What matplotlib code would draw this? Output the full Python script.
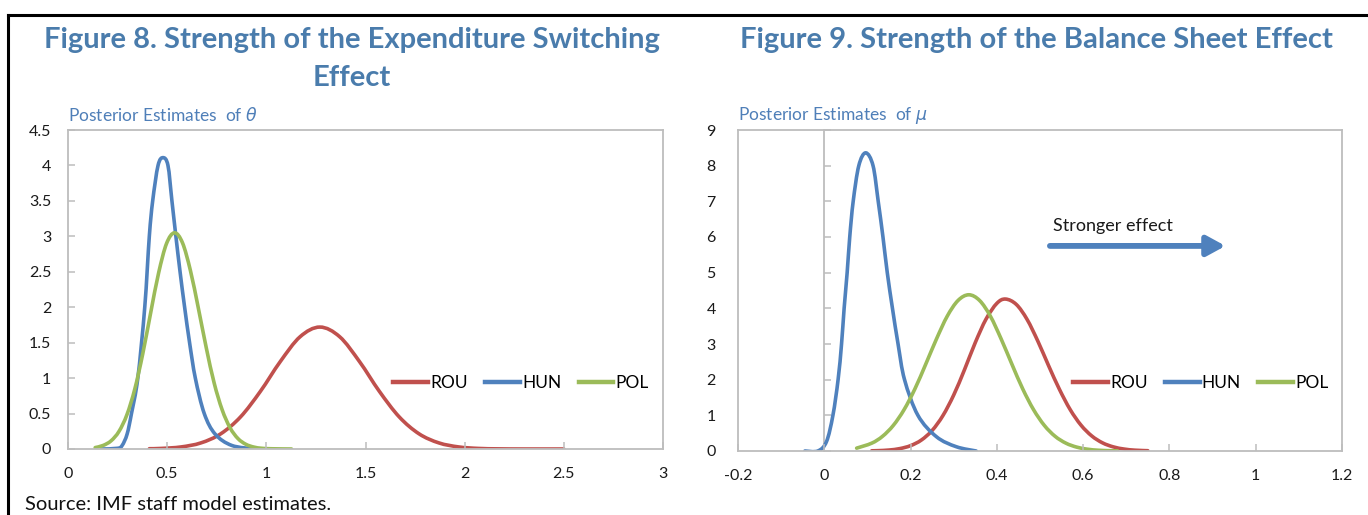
import numpy as np
import matplotlib
matplotlib.use("Agg")
import matplotlib.pyplot as plt
from matplotlib.path import Path
from matplotlib.patches import PathPatch
from matplotlib.lines import Line2D

plt.rcParams['font.family'] = ['Lato', 'DejaVu Sans']
plt.rcParams['mathtext.fontset'] = 'dejavusans'

# ---- Figure 8: posterior density of theta ----
theta_rou_x = [0.41, 0.47, 0.57, 0.67, 0.77, 0.87, 0.97, 1.07, 1.17, 1.27, 1.37,
               1.47, 1.57, 1.67, 1.77, 1.87, 1.97, 2.07, 2.17, 2.30, 2.50]
theta_rou_y = [0.004, 0.008, 0.029, 0.086, 0.214, 0.453, 0.813, 1.232, 1.583, 1.72, 1.583,
               1.232, 0.813, 0.453, 0.214, 0.086, 0.029, 0.008, 0.002, 0.0, 0.0]
theta_hun_x = [0.17, 0.25, 0.273, 0.298, 0.32, 0.352, 0.387, 0.41, 0.427, 0.454, 0.479,
               0.504, 0.524, 0.544, 0.565, 0.588, 0.613, 0.642, 0.687, 0.742, 0.826, 0.943]
theta_hun_y = [0.0, 0.01, 0.05, 0.21, 0.5, 1.0, 2.0, 3.0, 3.5, 4.0, 4.11,
               4.0, 3.5, 3.0, 2.5, 2.0, 1.5, 1.0, 0.5, 0.21, 0.05, 0.0]
theta_pol_x = [0.137, 0.177, 0.217, 0.257, 0.297, 0.337, 0.377, 0.417, 0.457, 0.497, 0.537,
               0.577, 0.617, 0.657, 0.697, 0.737, 0.777, 0.817, 0.857, 0.897, 0.937,
               0.977, 1.03, 1.127]
theta_pol_y = [0.02, 0.05, 0.115, 0.248, 0.483, 0.848, 1.344, 1.924, 2.485, 2.90, 3.05,
               2.91, 2.52, 1.99, 1.43, 0.93, 0.555, 0.30, 0.147, 0.066, 0.027,
               0.01, 0.003, 0.0]
theta_xticks = [0, 0.5, 1, 1.5, 2, 2.5, 3]
theta_xlabels = ['0', '0.5', '1', '1.5', '2', '2.5', '3']
theta_yticks = [0, 0.5, 1, 1.5, 2, 2.5, 3, 3.5, 4, 4.5]
theta_ylabels = ['0', '0.5', '1', '1.5', '2', '2.5', '3', '3.5', '4', '4.5']

# ---- Figure 9: posterior density of mu ----
mu_rou_x = [0.11, 0.125, 0.15, 0.175, 0.20, 0.225, 0.25, 0.275, 0.30, 0.325, 0.35, 0.375,
            0.40, 0.42, 0.445, 0.47, 0.495, 0.52, 0.545, 0.57, 0.595, 0.62, 0.645,
            0.67, 0.695, 0.72, 0.75]
mu_rou_y = [0.006, 0.010, 0.027, 0.067, 0.150, 0.307, 0.576, 0.994, 1.57, 2.28, 3.04, 3.70,
            4.14, 4.26, 4.11, 3.69, 3.08, 2.39, 1.73, 1.16, 0.725, 0.422, 0.228,
            0.115, 0.054, 0.023, 0.008]
mu_hun_x = [-0.045, -0.015, 0.005, 0.02, 0.032, 0.04, 0.046, 0.053, 0.059, 0.067, 0.08,
            0.096, 0.113, 0.125, 0.136, 0.146, 0.158, 0.171, 0.186, 0.217, 0.26, 0.306, 0.352]
mu_hun_y = [0.0, 0.0, 0.26, 1.0, 2.0, 3.0, 4.0, 5.0, 6.0, 7.0, 8.0,
            8.36, 8.0, 7.0, 6.0, 5.0, 4.0, 3.0, 2.0, 1.0, 0.4, 0.12, 0.0]
mu_pol_x = [0.075, 0.11, 0.135, 0.16, 0.185, 0.21, 0.235, 0.26, 0.285, 0.31, 0.335,
            0.36, 0.385, 0.41, 0.435, 0.46, 0.485, 0.51, 0.535, 0.56, 0.585, 0.61,
            0.635, 0.66, 0.68]
mu_pol_y = [0.08, 0.22, 0.412, 0.718, 1.16, 1.74, 2.43, 3.14, 3.78, 4.22, 4.38,
            4.22, 3.78, 3.14, 2.43, 1.74, 1.16, 0.718, 0.412, 0.22, 0.109, 0.05,
            0.021, 0.009, 0.004]
mu_xticks = [-0.2, 0, 0.2, 0.4, 0.6, 0.8, 1.0, 1.2]
mu_xlabels = ['-0.2', '0', '0.2', '0.4', '0.6', '0.8', '1', '1.2']
mu_yticks = [0, 1, 2, 3, 4, 5, 6, 7, 8, 9]
mu_ylabels = ['0', '1', '2', '3', '4', '5', '6', '7', '8', '9']

countries = ['ROU', 'HUN', 'POL']
colors = ['#c0504d', '#4f81bd', '#9bbb59']

TITLE_C = '#4a7cac'
SUB_C = '#4f7fb8'
AXIS_C = '#bdbdbd'
LW = 2.6

W, H = 1368, 515
fig = plt.figure(figsize=(W / 100, H / 100), dpi=100)


def px_axes(x0, y0, x1, y1):
    return fig.add_axes([x0 / W, 1 - y1 / H, (x1 - x0) / W, (y1 - y0) / H])


def smooth_path(xs, ys):
    """Catmull-Rom style cubic Bezier through the given points."""
    pts = np.column_stack([xs, ys]).astype(float)
    n = len(pts)
    verts = [pts[0]]
    codes = [Path.MOVETO]
    for i in range(n - 1):
        p0 = pts[i - 1] if i > 0 else pts[i]
        p1 = pts[i]
        p2 = pts[i + 1]
        p3 = pts[i + 2] if i + 2 < n else pts[i + 1]
        c1 = p1 + (p2 - p0) / 6.0
        c2 = p2 - (p3 - p1) / 6.0
        verts += [c1, c2, p2]
        codes += [Path.CURVE4] * 3
    return Path(verts, codes)


def draw_curve(ax, xs, ys, color):
    patch = PathPatch(smooth_path(xs, ys), facecolor='none', edgecolor=color,
                      lw=LW, capstyle='round', joinstyle='round',
                      transform=ax.transData)
    ax.add_patch(patch)


def style_axes(ax):
    for s in ax.spines.values():
        s.set_color(AXIS_C)
        s.set_linewidth(1.3)
    ax.tick_params(colors=AXIS_C, labelcolor='#1a1a1a', labelsize=11.5,
                   direction='in', length=5, width=1.1)


def add_legend(ax, x, y):
    handles = [Line2D([], [], color=c, lw=3.2) for c in colors]
    ax.legend(handles, countries, loc='center left', bbox_to_anchor=(x, y),
              ncol=3, frameon=False, fontsize=12.5, handlelength=2.0,
              handletextpad=0.12, columnspacing=1.0, borderaxespad=0,
              borderpad=0)


# Left panel
ax1 = px_axes(68, 130, 663, 449)
ax1.set_xlim(0, 3)
ax1.set_ylim(0, 4.5)
style_axes(ax1)
ax1.set_xticks(theta_xticks, theta_xlabels)
ax1.set_yticks(theta_yticks, theta_ylabels)
ax1.tick_params(axis='x', pad=13)
ax1.tick_params(axis='y', pad=12)
for xs, ys, c in zip([theta_rou_x, theta_hun_x, theta_pol_x],
                     [theta_rou_y, theta_hun_y, theta_pol_y], colors):
    draw_curve(ax1, xs, ys, c)
add_legend(ax1, 0.547, 0.207)

# Right panel
ax2 = px_axes(738, 130, 1342, 451)
ax2.set_xlim(-0.2, 1.2)
ax2.set_ylim(0, 9)
style_axes(ax2)
ax2.set_xticks(mu_xticks, mu_xlabels)
ax2.set_yticks(mu_yticks, mu_ylabels)
ax2.tick_params(axis='x', pad=13)
ax2.tick_params(axis='y', pad=16, length=0)
zero_axis = ax2.secondary_yaxis(0.0, transform=ax2.transData)
zero_axis.set_yticks(mu_yticks)
zero_axis.tick_params(axis='y', direction='in', length=5, width=1.1,
                      colors=AXIS_C, labelleft=False)
zero_axis.spines['left'].set_color(AXIS_C)
zero_axis.spines['left'].set_linewidth(1.3)
for xs, ys, c in zip([mu_rou_x, mu_hun_x, mu_pol_x],
                     [mu_rou_y, mu_hun_y, mu_pol_y], colors):
    draw_curve(ax2, xs, ys, c)
add_legend(ax2, 0.555, 0.212)

ax2.annotate('', xy=(0.93, 5.75), xytext=(0.523, 5.75),
             arrowprops=dict(arrowstyle='-|>,head_length=1.1,head_width=0.6',
                             color='#4f81bd', lw=4.2, shrinkA=0, shrinkB=0))
ax2.text(0.530, 6.30, 'Stronger effect', fontsize=13, color='#1a1a1a',
         ha='left', va='center')

# Titles and labels
fig.text(352 / W, 1 - 40 / H, 'Figure 8. Strength of the Expenditure Switching',
         ha='center', va='center', fontsize=21, fontweight='bold', color=TITLE_C)
fig.text(352 / W, 1 - 78 / H, 'Effect', ha='center', va='center',
         fontsize=21, fontweight='bold', color=TITLE_C)
fig.text(1036 / W, 1 - 40 / H, 'Figure 9. Strength of the Balance Sheet Effect',
         ha='center', va='center', fontsize=21, fontweight='bold', color=TITLE_C)
fig.text(68 / W, 1 - 115 / H, r'Posterior Estimates  of $\theta$', ha='left',
         va='center', fontsize=12.5, color=SUB_C)
fig.text(738 / W, 1 - 115 / H, r'Posterior Estimates  of $\mu$', ha='left',
         va='center', fontsize=12.5, color=SUB_C)
fig.text(25 / W, 1.5 / H, 'Source: IMF staff model estimates.', ha='left',
         va='bottom', fontsize=14.5, color='#111111')

# Outer frame
fig.add_artist(Line2D([8 / W, 1], [1 - 15 / H, 1 - 15 / H], color='black', lw=2.2,
                      transform=fig.transFigure))
fig.add_artist(Line2D([8 / W, 8 / W], [0, 1 - 15 / H], color='black', lw=2.2,
                      transform=fig.transFigure))

fig.savefig('out.png', dpi=100)
